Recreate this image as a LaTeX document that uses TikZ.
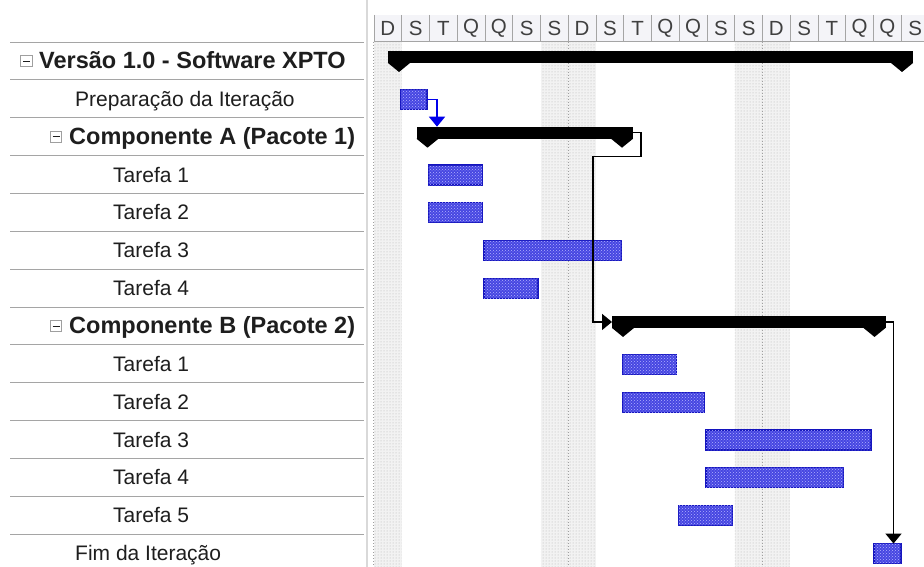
\documentclass[tikz,border=0pt]{standalone}
\usepackage{fontspec}
\setmainfont{Liberation Sans}
\usetikzlibrary{arrows.meta,patterns,calc}
\definecolor{barblue}{RGB}{70,70,225}
\definecolor{barline}{RGB}{20,20,190}
\definecolor{linkblue}{RGB}{0,0,235}
\definecolor{gridgray}{RGB}{165,165,165}
\definecolor{headfill}{RGB}{244,244,248}
\definecolor{txt}{RGB}{30,30,30}
\begin{document}
\begin{tikzpicture}[x=1pt,y=-1pt,
  taskbar/.style={draw=barline, line width=1.1pt, fill=barblue,
    postaction={pattern=crosshatch dots, pattern color=white!70!blue},
    anchor=north west, inner sep=0pt, outer sep=0pt, minimum height=20pt},
  sumbar/.style={fill=black, anchor=north west, inner sep=0pt, outer sep=0pt, minimum height=12pt},
  headcell/.style={anchor=north west, inner sep=0pt, outer sep=0pt, minimum width=27.75pt,
    minimum height=27pt, fill=headfill, text=txt!85, font=\fontsize{20.5}{24}\selectfont},
  lbl/.style={anchor=base west, inner sep=0pt, text=txt, font=\fontsize{21}{25}\selectfont},
  lblb/.style={anchor=base west, inner sep=0pt, text=txt, font=\fontsize{23.5}{27}\selectfont\bfseries},
  minusbox/.style={draw=gray!75, fill=white, line width=0.8pt, minimum size=11.5pt, inner sep=0pt},
  rowline/.style={draw=gridgray, line width=1pt},
  shadebg/.style={fill=gray!10},
  shade/.style={pattern=dots, pattern color=gray!60},
  link/.style={line width=1.6pt, -{Triangle[width=16pt,length=10pt]}}]
\useasboundingbox (0,0) rectangle (924,567);
\fill[white] (0,0) rectangle (924,567);

% weekend / non-working shading
\foreach \a/\b in {374/401.75, 540.5/596, 734.75/790.25} {
  \fill[shadebg] (\a,42) rectangle (\b,567);
  \fill[shade] (\a,42) rectangle (\b,567);
}
\draw[gray!75, dotted, line width=1pt] (373,42) -- (373,567);
\draw[gray!75, dotted, line width=1pt] (568.25,42) -- (568.25,567);
\draw[gray!75, dotted, line width=1pt] (762.5,42) -- (762.5,567);

% divider between table and chart
\draw[gray!30, line width=1.5pt] (367,0) -- (367,567);

% header
\foreach \l [count=\i from 0] in {D,S,T,Q,Q,S,S,D,S,T,Q,Q,S,S,D,S,T,Q,Q,S} {
  \node[headcell] (h\i) at ({374+27.75*\i},15) {\l};
  \draw[gridgray, line width=1pt] (h\i.north west) -- (h\i.south west);
}
\draw[rowline] (374,42) -- (924,42);

% table row lines
\foreach \k in {0,...,13} {
  \draw[rowline] (10,{42.07+37.85*\k}) -- (364,{42.07+37.85*\k});
}

% labels
\node[minusbox] (m0) at (26.5,61) {};
\draw[txt, line width=0.9pt] (m0.center) +(-3.5,0) -- +(3.5,0);
\node[lblb] (r0) at (39,69) {Versão 1.0 - Software XPTO};
\node[lbl] (r1) at (75,106.35) {Preparação da Iteração};
\node[minusbox] (m2) at (56,136.7) {};
\draw[txt, line width=0.9pt] (m2.center) +(-3.5,0) -- +(3.5,0);
\node[lblb] (r2) at (69,144.7) {Componente A (Pacote 1)};
\node[lbl] (r3) at (113,182.05) {Tarefa 1};
\node[lbl] (r4) at (113,219.9) {Tarefa 2};
\node[lbl] (r5) at (113,257.75) {Tarefa 3};
\node[lbl] (r6) at (113,295.6) {Tarefa 4};
\node[minusbox] (m7) at (56,325.95) {};
\draw[txt, line width=0.9pt] (m7.center) +(-3.5,0) -- +(3.5,0);
\node[lblb] (r7) at (69,333.95) {Componente B (Pacote 2)};
\node[lbl] (r8) at (113,371.3) {Tarefa 1};
\node[lbl] (r9) at (113,409.15) {Tarefa 2};
\node[lbl] (r10) at (113,447) {Tarefa 3};
\node[lbl] (r11) at (113,484.85) {Tarefa 4};
\node[lbl] (r12) at (113,522.7) {Tarefa 5};
\node[lbl] (r13) at (75,560.55) {Fim da Iteração};

% summary bars
\node[sumbar, minimum width=525pt] (sV) at (388,51) {};
\node[sumbar, minimum width=216.5pt] (sA) at (416.5,126.7) {};
\node[sumbar, minimum width=273.5pt] (sB) at (612,315.95) {};
\foreach \s in {sV,sA,sB} {
  \fill (\s.south west) -- ++(22,0) -- ++(-11,9) -- cycle;
  \fill (\s.south east) -- ++(-22,0) -- ++(11,9) -- cycle;
}

% task bars
\node[taskbar, minimum width=26.25pt] (prep) at (400.75,89.35) {};
\node[taskbar, minimum width=54pt] (a1) at (428.5,165.05) {};
\node[taskbar, minimum width=54pt] (a2) at (428.5,202.9) {};
\node[taskbar, minimum width=137.25pt] (a3) at (484,240.75) {};
\node[taskbar, minimum width=54pt] (a4) at (484,278.6) {};
\node[taskbar, minimum width=54pt] (b1) at (622.75,354.3) {};
\node[taskbar, minimum width=81.75pt] (b2) at (622.75,392.15) {};
\node[taskbar, minimum width=165pt] (b3) at (706,430) {};
\node[taskbar, minimum width=137.25pt] (b4) at (706,467.85) {};
\node[taskbar, minimum width=54pt] (b5) at (678.25,505.7) {};
\node[taskbar, minimum width=27pt] (fim) at (874,543.55) {};

% links
\coordinate (p1) at ([xshift=10pt]prep.east);
\draw[link, linkblue] (prep.east) -- (p1) -- (p1 |- sA.north);

\coordinate (q1) at ([xshift=8pt]sA.east);
\coordinate (q2) at ([yshift=-24pt]q1);
\coordinate (q3) at ([xshift=-19pt]sB.west);
\draw[link, black] (sA.east) -- (q1) -- (q2) -- (q2 -| q3) -- (q3) -- (sB.west);

\coordinate (c1) at ([xshift=8pt]sB.east);
\draw[link, black] (sB.east) -- (c1) -- (c1 |- fim.north);
\end{tikzpicture}
\end{document}
